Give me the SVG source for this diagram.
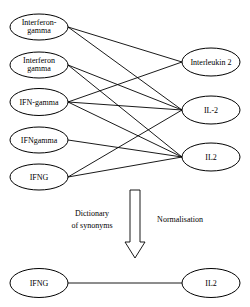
<svg xmlns="http://www.w3.org/2000/svg" width="250" height="307" viewBox="0 0 250 307">
<style>
.n{fill:#fff;stroke:#000;stroke-width:1}
.t{font-family:"Liberation Serif","Times New Roman",serif;font-size:8px;fill:#000;text-anchor:middle}
.e{stroke:#000;stroke-width:0.9;fill:none}
</style>
<rect width="250" height="307" fill="#fff"/>
<g id="connectors">
<line class="e" x1="68" y1="27" x2="182" y2="62"/>
<line class="e" x1="68" y1="27" x2="182" y2="110"/>
<line class="e" x1="68" y1="65" x2="182" y2="110"/>
<line class="e" x1="68" y1="65" x2="182" y2="157"/>
<line class="e" x1="68" y1="102" x2="182" y2="62"/>
<line class="e" x1="68" y1="102" x2="182" y2="110"/>
<line class="e" x1="68" y1="102" x2="182" y2="157"/>
<line class="e" x1="68" y1="140" x2="182" y2="157"/>
<line class="e" x1="68" y1="177" x2="182" y2="110"/>
<line class="e" x1="68" y1="177" x2="182" y2="157"/>
<line class="e" x1="68" y1="283" x2="182" y2="283"/>
</g>
<g id="arrow">
<path d="M130,190 H140 V242 H145 L135,258 L125,242 H130 Z" fill="#fff" stroke="#000" stroke-width="0.9"/>
</g>
<g id="n1"><ellipse class="n" cx="39" cy="27" rx="29" ry="13"/><text class="t" x="39" y="25">Interferon-</text><text class="t" x="39" y="33">gamma</text></g>
<g id="n2"><ellipse class="n" cx="39" cy="65" rx="29" ry="13"/><text class="t" x="39" y="63">Interferon</text><text class="t" x="39" y="71">gamma</text></g>
<g id="n3"><ellipse class="n" cx="39" cy="102" rx="29" ry="13.5"/><text class="t" x="39" y="105">IFN-gamma</text></g>
<g id="n4"><ellipse class="n" cx="39" cy="140" rx="29" ry="13"/><text class="t" x="39" y="143">IFNgamma</text></g>
<g id="n5"><ellipse class="n" cx="39" cy="177" rx="29" ry="13"/><text class="t" x="39" y="180">IFNG</text></g>
<g id="r1"><ellipse class="n" cx="211" cy="62" rx="29" ry="14"/><text class="t" x="211" y="65">Interleukin 2</text></g>
<g id="r2"><ellipse class="n" cx="211" cy="110" rx="29" ry="14"/><text class="t" x="211" y="113">IL-2</text></g>
<g id="r3"><ellipse class="n" cx="211" cy="157" rx="29" ry="14"/><text class="t" x="211" y="160">IL2</text></g>
<g id="b1"><ellipse class="n" cx="39" cy="283" rx="29" ry="14.5"/><text class="t" x="39" y="286">IFNG</text></g>
<g id="b2"><ellipse class="n" cx="211" cy="283" rx="29" ry="14.5"/><text class="t" x="211" y="286">IL2</text></g>
<g id="labels">
<text class="t" x="92" y="216">Dictionary</text>
<text class="t" x="92" y="228">of synonyms</text>
<text class="t" x="180" y="222">Normalisation</text>
</g>
</svg>
